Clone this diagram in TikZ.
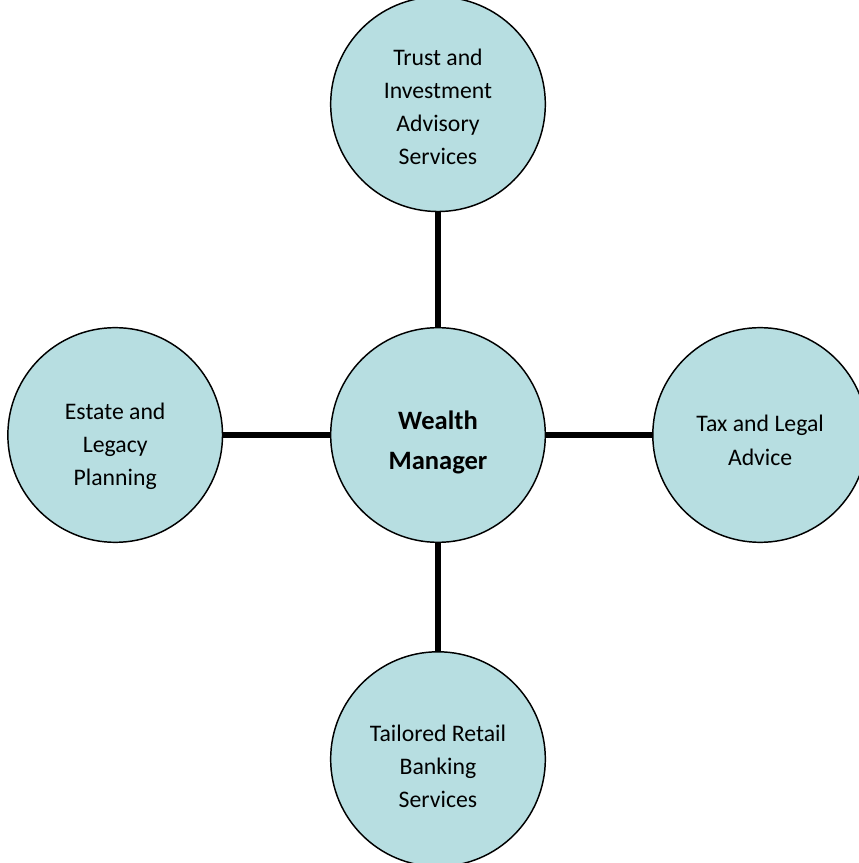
\documentclass[tikz,border=0pt]{standalone}
\usepackage{fontspec}
\setmainfont{Carlito}
\usetikzlibrary{positioning}
\definecolor{aqua}{HTML}{B7DEE1}
\newcommand{\drop}[2]{\raisebox{-#1}[0pt][0pt]{\begin{tabular}{@{}c@{}}#2\end{tabular}}}
\tikzset{
  blob/.style={circle,draw=black,line width=1.1pt,fill=aqua,minimum size=161pt,inner sep=0pt,font=\fontsize{17.8}{24.8}\selectfont},
  hub/.style={blob,font=\fontsize{19.9}{30}\selectfont\bfseries},
  link/.style={line width=3.8pt,draw=black},
}
\begin{document}
\begin{tikzpicture}[node distance=81pt and 80pt]
\useasboundingbox (-328.5pt,-321pt) rectangle (315pt,326.25pt);
\node[hub] (wm) {\drop{10pt}{Wealth\\Manager}};
\node[blob,above=86pt of wm] (trust) {\drop{7.5pt}{Trust and\\Investment\\Advisory\\Services}};
\node[blob,left=of wm] (estate) {\drop{12.5pt}{Estate and\\Legacy\\Planning}};
\node[blob,right=79.5pt of wm] (tax) {\drop{9.5pt}{Tax and Legal\\Advice}};
\node[blob,below=of wm] (retail) {\drop{11pt}{Tailored Retail\\Banking\\Services}};
\draw[link](trust)--(wm); \draw[link](estate)--(wm); \draw[link](wm)--(tax); \draw[link](wm)--(retail);
\end{tikzpicture}
\end{document}
